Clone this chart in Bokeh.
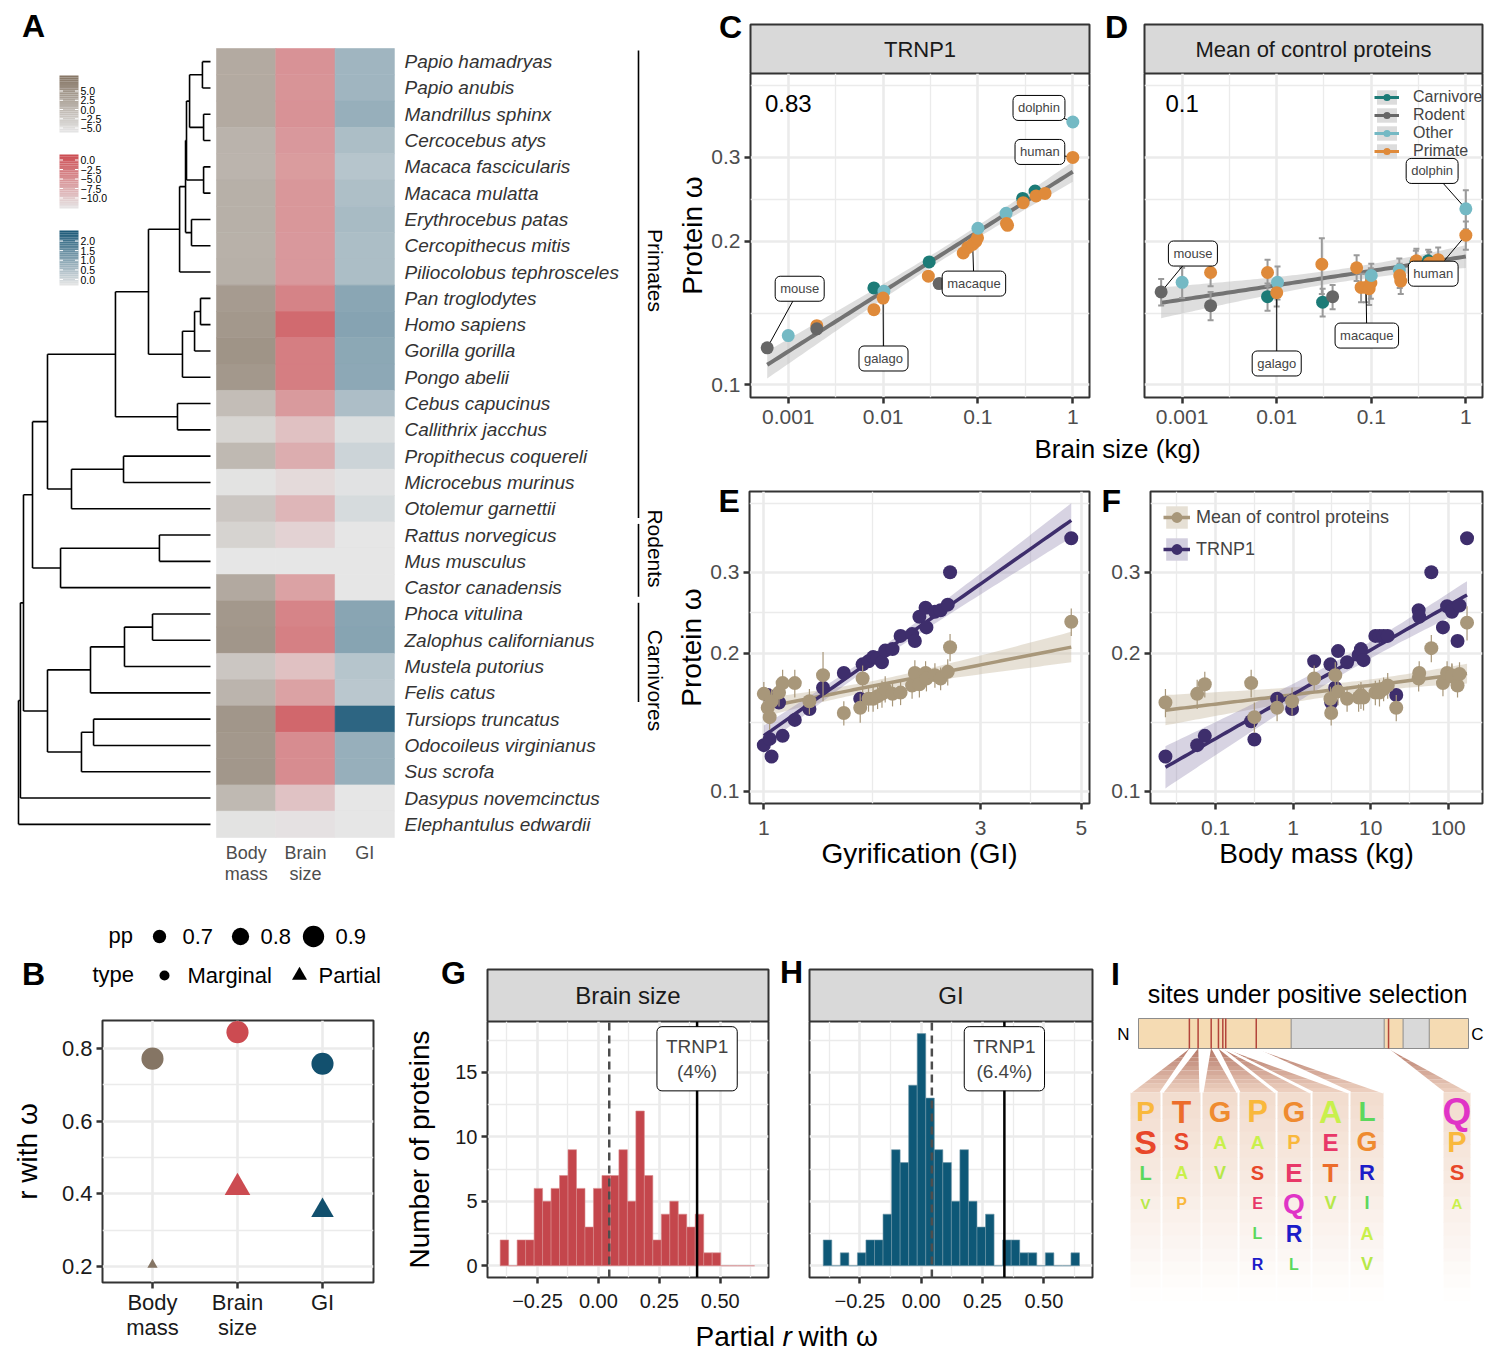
import numpy as np
from bokeh.plotting import figure
from bokeh.layouts import row, column
from bokeh.models import (Range1d, FixedTicker, CustomJSTickFormatter, Label, Legend, LegendItem)
from bokeh.core.properties import value
from bokeh.embed import file_html
from bokeh.resources import INLINE

FONT = "Liberation Sans"

# ======================= DATA =======================
# ---- Panel A
species = ["Papio hamadryas", "Papio anubis", "Mandrillus sphinx", "Cercocebus atys",
           "Macaca fascicularis", "Macaca mulatta", "Erythrocebus patas", "Cercopithecus mitis",
           "Piliocolobus tephrosceles", "Pan troglodytes", "Homo sapiens", "Gorilla gorilla",
           "Pongo abelii", "Cebus capucinus", "Callithrix jacchus", "Propithecus coquereli",
           "Microcebus murinus", "Otolemur garnettii", "Rattus norvegicus", "Mus musculus",
           "Castor canadensis", "Phoca vitulina", "Zalophus californianus", "Mustela putorius",
           "Felis catus", "Tursiops truncatus", "Odocoileus virginianus", "Sus scrofa",
           "Dasypus novemcinctus", "Elephantulus edwardii"]
heat_columns = ["Body\nmass", "Brain\nsize", "GI"]
heat_body_mass = [0.3, 0.3, 0.3, -0.5, -0.6, -0.2, -0.2, -0.3, -0.2, 1.6, 1.9, 2.3, 1.9, -1.4, -3.5,
                  -1.0, -4.7, -2.2, -3.3, -5.0, 0.4, 1.9, 2.1, -2.2, -0.6, 2.1, 1.9, 2.0, -1.0, -4.7]
heat_brain_size = [-4.6, -4.7, -4.6, -5.0, -5.2, -4.9, -4.9, -5.0, -5.0, -3.6, -2.0, -3.3, -3.3, -5.1, -7.6,
                   -6.3, -9.2, -6.9, -8.7, -10.0, -5.6, -3.7, -3.4, -7.6, -5.6, -1.8, -4.2, -4.2, -7.7, -9.7]
heat_gi = [0.69, 0.69, 0.77, 0.57, 0.47, 0.55, 0.61, 0.57, 0.57, 0.90, 0.94, 0.88, 0.87, 0.56, 0.10,
           0.25, 0.05, 0.16, 0.0, 0.0, 0.0, 0.91, 0.93, 0.47, 0.43, 1.81, 0.77, 0.77, 0.0, 0.0]
clades = ["Primates", "Rodents", "Carnivores"]
clade_first = [0, 18, 21]
clade_last = [17, 20, 24]
# dendrogram merges: (child a, child b, node depth on 0-100 scale); new nodes numbered from 30
tree_merges = [
    (0, 1, 4.2), (2, 3, 3.6), (30, 31, 10.9), (4, 5, 3.6), (32, 33, 12.5),
    (6, 7, 9.9), (34, 35, 13.0), (36, 8, 16.1), (9, 10, 5.2), (38, 11, 8.3),
    (39, 12, 14.6), (37, 40, 32.3), (13, 14, 17.2), (41, 42, 49.5), (15, 16, 45.3),
    (44, 17, 72.4), (43, 45, 84.9), (18, 19, 26.6), (47, 20, 78.1), (46, 48, 92.7),
    (21, 22, 30.2), (50, 23, 44.8), (51, 24, 62.5), (25, 26, 60.9), (53, 27, 67.2),
    (52, 54, 84.9), (49, 55, 97.4), (56, 28, 99.0), (57, 29, 100.0)]
cbar_body_labels = ["5.0", "2.5", "0.0", "\u22122.5", "\u22125.0"]
cbar_brain_labels = ["0.0", "\u22122.5", "\u22125.0", "\u22127.5", "\u221210.0"]
cbar_gi_labels = ["2.0", "1.5", "1.0", "0.5", "0.0"]

# ---- Panel B
b_traits = ["Body\nmass", "Brain\nsize", "GI"]
b_marginal_r = [0.772, 0.845, 0.758]
b_partial_r = [0.205, 0.417, 0.354]
b_marginal_pp = [0.92, 0.92, 0.92]
b_partial_pp = [0.60, 0.95, 0.88]
pp_breaks = [0.7, 0.8, 0.9]

# ---- Panels C / D (brain size in kg)
cd_brain_kg = [0.0006, 0.001, 0.002, 0.002, 0.008, 0.008, 0.0102, 0.01, 0.0306, 0.03, 0.039, 0.07,
               0.078, 0.088, 0.095, 0.099, 0.1, 0.198, 0.2, 0.205, 0.296, 0.3, 0.4, 0.41, 0.51, 1.0, 1.0]
cd_group = ["Rodent", "Other", "Primate", "Rodent", "Carnivore", "Primate", "Other", "Primate",
            "Carnivore", "Primate", "Rodent", "Primate", "Primate", "Primate", "Primate", "Primate",
            "Other", "Other", "Primate", "Primate", "Carnivore", "Primate", "Carnivore", "Primate",
            "Primate", "Other", "Primate"]
trnp1_omega = [0.1195, 0.1268, 0.133, 0.131, 0.1596, 0.1437, 0.157, 0.152, 0.181, 0.169, 0.163, 0.189,
               0.194, 0.197, 0.2, 0.2034, 0.213, 0.229, 0.218, 0.216, 0.246, 0.241, 0.255, 0.249, 0.252,
               0.356, 0.300]
ctrl_omega = [0.1566, 0.164, 0.172, 0.1465, 0.153, 0.172, 0.164, 0.156, 0.149, 0.179, 0.153, 0.176,
              0.160, 0.160, 0.159, 0.1635, 0.1695, 0.174, 0.1695, 0.165, 0.181, 0.182, 0.182, 0.180,
              0.183, 0.234, 0.206]
ctrl_se = [0.010, 0.012, 0.011, 0.010, 0.010, 0.011, 0.013, 0.010, 0.010, 0.024, 0.009, 0.011, 0.011,
           0.011, 0.012, 0.012, 0.010, 0.010, 0.010, 0.010, 0.010, 0.011, 0.010, 0.010, 0.011, 0.022, 0.014]
group_order = ["Carnivore", "Rodent", "Other", "Primate"]
tag_names = ["dolphin", "human", "mouse", "galago", "macaque"]
tag_index = [25, 26, 0, 7, 13]
c_corr = "0.83"
d_corr = "0.1"

# ---- Panel E (gyrification index)
e_gi = [1.00, 1.02, 1.03, 1.04, 1.08, 1.10, 1.17, 1.26, 1.35, 1.50, 1.63, 1.65, 1.70, 1.74, 1.78,
        1.82, 1.85, 1.92, 2.00, 2.12, 2.15, 2.20, 2.27, 2.28, 2.38, 2.45, 2.54, 2.57, 4.75]
e_trnp1 = [0.126, 0.162, 0.130, 0.119, 0.156, 0.132, 0.143, 0.151, 0.168, 0.181, 0.159, 0.189, 0.192,
           0.196, 0.195, 0.191, 0.2025, 0.204, 0.218, 0.220, 0.2125, 0.240, 0.251, 0.2275, 0.246, 0.248,
           0.255, 0.300, 0.356]
e_ctrl = [0.163, 0.152, 0.145, 0.157, 0.164, 0.172, 0.172, 0.157, 0.179, 0.148, 0.152, 0.176, 0.159,
          0.159, 0.161, 0.163, 0.167, 0.163, 0.164, 0.170, 0.181, 0.171, 0.181, 0.176, 0.179, 0.176,
          0.182, 0.206, 0.234]
e_ctrl_se = [0.010, 0.010, 0.009, 0.010, 0.011, 0.012, 0.012, 0.010, 0.022, 0.009, 0.011, 0.012, 0.010,
             0.010, 0.010, 0.011, 0.011, 0.010, 0.010, 0.011, 0.012, 0.011, 0.011, 0.011, 0.011, 0.010,
             0.012, 0.014, 0.016]

# ---- Panel F (body mass in kg)
f_mass = [0.0226, 0.058, 0.0727, 0.288, 0.317, 0.622, 0.97, 1.87, 3.03, 3.1, 3.5, 3.8, 4.97, 7.0, 7.5,
          8.1, 11.5, 13, 14.7, 16.6, 21.4, 41.6, 42.3, 60.6, 85.6, 96.8, 111.6, 112, 132, 140, 175]
f_trnp1 = [0.119, 0.126, 0.132, 0.142, 0.1296, 0.159, 0.151, 0.192, 0.189, 0.156, 0.168, 0.202, 0.191,
           0.198, 0.204, 0.193, 0.218, 0.218, 0.218, 0.218, 0.162, 0.248, 0.240, 0.300, 0.2275, 0.253,
           0.248, 0.246, 0.2125, 0.254, 0.356]
f_ctrl = [0.156, 0.163, 0.171, 0.172, 0.145, 0.152, 0.157, 0.176, 0.159, 0.148, 0.179, 0.165, 0.159,
          0.160, 0.162, 0.160, 0.164, 0.164, 0.167, 0.170, 0.152, 0.176, 0.181, 0.205, 0.172, 0.181,
          0.179, 0.178, 0.170, 0.180, 0.233]
f_ctrl_se = [0.011, 0.012, 0.011, 0.012, 0.011, 0.010, 0.011, 0.012, 0.010, 0.009, 0.012, 0.011, 0.010,
             0.011, 0.011, 0.010, 0.010, 0.011, 0.010, 0.011, 0.010, 0.011, 0.011, 0.014, 0.011, 0.011,
             0.011, 0.011, 0.010, 0.011, 0.020]

# ---- Panels G / H (histograms of partial r)
g_bin_start = -0.403
h_bin_start = -0.399
bin_width = 0.0348
g_counts = [2, 0, 2, 2, 6, 5, 6, 7, 9, 6, 3, 6, 7, 7, 9, 5, 12, 7, 2, 4, 5, 4, 3, 4, 1, 1, 0, 0, 0, 0]
h_counts = [2, 0, 1, 0, 1, 2, 2, 4, 9, 8, 14, 18, 13, 9, 8, 5, 9, 5, 3, 4, 0, 2, 2, 1, 1, 0, 1, 0, 0, 1]
g_mean = 0.0445
h_mean = 0.0435
g_trnp1 = 0.405
h_trnp1 = 0.339
g_tag = "TRNP1\n(4%)"
h_tag = "TRNP1\n(6.4%)"

# ---- Panel I (sites under positive selection)
prot_len = 227
prot_domains = [(105, 169), (182, 200)]
sel_sites = [35, 41, 50, 55, 58, 60, 81, 172]
logo_letters = ["PSLV", "TSAP", "GAV", "PASELR", "GPEQRL", "AETV", "LGRIAV", "QPSA"]
logo_weight = [[0.59, 0.82, 0.27, 0.09], [0.77, 0.41, 0.18, 0.14], [0.64, 0.23, 0.18],
               [0.73, 0.23, 0.27, 0.14, 0.14, 0.14], [0.64, 0.27, 0.50, 0.59, 0.41, 0.14],
               [0.77, 0.45, 0.50, 0.18], [0.59, 0.55, 0.36, 0.18, 0.18, 0.18], [0.95, 0.64, 0.36, 0.09]]

# ======================= STYLE / HELPERS =======================
GRAY_TXT = "#4d4d4d"
GRID = "#ebebeb"
LOW = "#e6e6e6"
HI_BODY, HI_BRAIN, HI_GI = "#857564", "#cc4b51", "#1a5877"
GROUP_COLORS = {"Carnivore": "#1c7b77", "Rodent": "#666666", "Other": "#74b9c4", "Primate": "#df8a3a"}
PURPLE, TAN = "#3e2e6c", "#a8977a"
AA_COLORS = {"P": "#f9b83c", "S": "#e8472a", "L": "#5cd85c", "V": "#b6e84a", "T": "#ec6c2b",
             "A": "#c8f04c", "G": "#ef8b30", "E": "#e83868", "Q": "#e034c6", "R": "#1c1cc8", "I": "#5cd85c"}


def lerp_hex(c0, c1, t):
    t = min(max(t, 0.0), 1.0)
    a = [int(c0[i:i + 2], 16) for i in (1, 3, 5)]
    b = [int(c1[i:i + 2], 16) for i in (1, 3, 5)]
    return "#%02x%02x%02x" % tuple(int(round(a[k] + (b[k] - a[k]) * t)) for k in range(3))


def blank_fig(w, h, x0, x1, y0, y1):
    p = figure(width=w, height=h, x_range=Range1d(x0, x1), y_range=Range1d(y0, y1),
               x_axis_location=None, y_axis_location=None, output_backend="svg",
               toolbar_location=None, min_border=0)
    p.grid.visible = False
    p.outline_line_color = None
    return p


def txt(p, x, y, s, size, color="black", align="center", baseline="middle", style="normal", angle=0.0):
    p.text(x=[x], y=[y], text=[s], text_font=value(FONT), text_font_size=value(size),
           text_color=color, text_align=align, text_baseline=baseline, text_font_style=style, angle=angle)


def data_fig(w, h, xr, yr, bl, br, bt, bb, xlog=False, ylog=False, yaxis=True):
    p = figure(width=w, height=h, x_range=Range1d(*xr), y_range=Range1d(*yr),
               x_axis_type="log" if xlog else "linear", y_axis_type="log" if ylog else "linear",
               y_axis_location="left" if yaxis else None, output_backend="svg",
               toolbar_location=None, min_border_left=bl, min_border_right=br,
               min_border_top=bt, min_border_bottom=bb)
    p.outline_line_color = "#333333"
    p.outline_line_width = 2
    return p


def style_axis(axes, ticks, code, size, color, args=None, standoff=4):
    axes.ticker = FixedTicker(ticks=ticks)
    axes.formatter = CustomJSTickFormatter(code=code, args=args or {})
    axes.axis_line_color = None
    axes.major_tick_line_color = "#333333"
    axes.major_tick_line_width = 2.5
    axes.major_tick_out = 6
    axes.major_tick_in = 0
    axes.minor_tick_line_color = None
    axes.major_label_text_font = FONT
    axes.major_label_text_font_size = size
    axes.major_label_text_color = color
    axes.major_label_standoff = standoff
    axes.axis_label_text_font = FONT
    axes.axis_label_text_font_size = "28px"
    axes.axis_label_text_font_style = "normal"
    axes.axis_label_text_color = "black"
    axes.axis_label_standoff = 0


def style_grid(g, ticks, minor):
    g.ticker = FixedTicker(ticks=ticks, minor_ticks=minor)
    g.grid_line_color = GRID
    g.grid_line_width = 2.6
    g.minor_grid_line_color = GRID
    g.minor_grid_line_width = 1.3


def fit_band(x, y, n=80, t=2.06):
    lx = np.log(np.asarray(x, float))
    ly = np.log(np.asarray(y, float))
    b, a = np.polyfit(lx, ly, 1)
    res = ly - (a + b * lx)
    m = len(lx)
    s = np.sqrt((res ** 2).sum() / (m - 2))
    sxx = ((lx - lx.mean()) ** 2).sum()
    gx = np.linspace(lx.min(), lx.max(), n)
    gy = a + b * gx
    se = s * np.sqrt(1.0 / m + (gx - lx.mean()) ** 2 / sxx)
    return np.exp(gx), np.exp(gy), np.exp(gy - t * se), np.exp(gy + t * se)


def title_letter(p, s, offset, standoff=-54):
    p.title.text = s
    p.title.text_font = FONT
    p.title.text_font_size = "32px"
    p.title.text_font_style = "bold"
    p.title.text_color = "black"
    p.title.align = "left"
    p.title.offset = offset
    p.title.standoff = standoff


def tag(p, x, y, s, size="13px", pad=5):
    p.add_layout(Label(x=x, y=y, text=s, text_font=FONT, text_font_size=size, text_align="center",
                       text_baseline="middle", background_fill_color="white", border_line_color="black",
                       border_line_width=1, padding=pad, border_radius=5))


FMT_STR = "return tick.toString();"
FMT_1 = "return tick.toFixed(1);"
FMT_2M = "return (tick < 0 ? '\u2212' : '') + Math.abs(tick).toFixed(2);"

XR_CD = (0.0004, 1.5)
YR_OM = (0.094, 0.45)
XT_CD, XM_CD = [0.001, 0.01, 0.1, 1], [0.000316, 0.00316, 0.0316, 0.316]
YT_OM, YM_OM = [0.1, 0.2, 0.3], [0.1414, 0.2449, 0.4243]
FAR = 1e-9  # off-range anchor for legend-only glyphs

# ======================= PANEL A =======================
pA = blank_fig(672, 900, 0, 672, 900, 0)
txt(pA, 33, 25, "A", "32px", style="bold")
ROW_Y0, ROW_H = 48.0, 26.3
TIP_X, ROOT_X = 210.0, 18.0
n_sp = len(species)
node_x = {i: TIP_X for i in range(n_sp)}
node_y = {i: ROW_Y0 + (i + 0.5) * ROW_H for i in range(n_sp)}
sx0, sy0, sx1, sy1 = [], [], [], []
for k, (a, b, d) in enumerate(tree_merges):
    nid = n_sp + k
    xx = TIP_X - d / 100.0 * (TIP_X - ROOT_X)
    node_x[nid] = xx
    node_y[nid] = 0.5 * (node_y[a] + node_y[b])
    sx0 += [xx, xx, xx]
    sy0 += [node_y[a], node_y[a], node_y[b]]
    sx1 += [xx, node_x[a], node_x[b]]
    sy1 += [node_y[b], node_y[a], node_y[b]]
pA.segment(x0=sx0, y0=sy0, x1=sx1, y1=sy1, line_color="black", line_width=1.6)

HM_X0, HM_W = 216.0, 59.3
heat_specs = [(heat_body_mass, -5.0, 5.0, HI_BODY), (heat_brain_size, -10.0, 0.0, HI_BRAIN),
              (heat_gi, 0.0, 2.0, HI_GI)]
tops = [ROW_Y0 + i * ROW_H for i in range(n_sp)]
bots = [ROW_Y0 + (i + 1) * ROW_H for i in range(n_sp)]
for j, (vals, lo, hi, chi) in enumerate(heat_specs):
    cols = [lerp_hex(LOW, chi, (v - lo) / (hi - lo)) for v in vals]
    pA.quad(left=[HM_X0 + j * HM_W] * n_sp, right=[HM_X0 + (j + 1) * HM_W] * n_sp, top=tops, bottom=bots,
            fill_color=cols, line_color=cols, line_width=0.6)
    for li, word in enumerate(heat_columns[j].split("\n")):
        txt(pA, HM_X0 + (j + 0.5) * HM_W, 852 + 21 * li, word, "18px", color=GRAY_TXT)

pA.text(x=[404] * n_sp, y=[node_y[i] for i in range(n_sp)], text=species, text_font=value(FONT),
        text_font_size=value("19px"), text_font_style="italic", text_color="#333333",
        text_align="left", text_baseline="middle")

clade_label_y = [270, 548, 680]
for name, i0, i1, ly in zip(clades, clade_first, clade_last, clade_label_y):
    y0 = ROW_Y0 + i0 * ROW_H + 2
    y1 = ROW_Y0 + (i1 + 1) * ROW_H - 4
    pA.segment(x0=[638], y0=[y0], x1=[638], y1=[y1], line_color="black", line_width=1.6)
    txt(pA, 655, ly, name, "21px", angle=-np.pi / 2)

cbar_specs = [(75, 132, 90.5, 127.5, cbar_body_labels, HI_BODY),
              (154, 208, 159.5, 197.5, cbar_brain_labels, HI_BRAIN),
              (230, 285, 240.5, 279.0, cbar_gi_labels, HI_GI)]
NSL = 30
for (yt, yb, t0, t1, labels, chi) in cbar_specs:
    hs = (yb - yt) / NSL
    pA.quad(left=[59] * NSL, right=[78] * NSL, top=[yt + s * hs for s in range(NSL)],
            bottom=[yt + (s + 1) * hs for s in range(NSL)],
            fill_color=[lerp_hex(chi, LOW, (s + 0.5) / NSL) for s in range(NSL)], line_color=None)
    ty = [t0 + (t1 - t0) * q / 4 for q in range(5)]
    pA.segment(x0=[59] * 5 + [74.5] * 5, y0=ty + ty, x1=[62.5] * 5 + [78] * 5, y1=ty + ty,
               line_color="white", line_width=1)
    pA.text(x=[80] * 5, y=ty, text=labels, text_font=value(FONT), text_font_size=value("10.5px"),
            text_color="black", text_align="left", text_baseline="middle")

# ======================= PANEL C =======================
stripC = blank_fig(423, 73, 672, 1095, 73, 0)
stripC.quad(left=[750], right=[1089], top=[24], bottom=[73], fill_color="#d9d9d9", line_color="#333333",
            line_width=2)
txt(stripC, 919.5, 49, "TRNP1", "22px", color="#1a1a1a")
txt(stripC, 730, 26, "C", "32px", style="bold")

cd_colors = [GROUP_COLORS[g] for g in cd_group]
pC = data_fig(423, 360, XR_CD, YR_OM, 78, 6, 0, 36, xlog=True, ylog=True)
style_axis(pC.xaxis, XT_CD, FMT_STR, "21px", GRAY_TXT, standoff=6)
style_axis(pC.yaxis, YT_OM, FMT_1, "21px", GRAY_TXT)
pC.yaxis.axis_label = "Protein \u03c9"
style_grid(pC.xgrid, XT_CD, XM_CD)
style_grid(pC.ygrid, YT_OM, YM_OM)
fx, fy, flo, fhi = fit_band(cd_brain_kg, trnp1_omega)
pC.varea(x=fx, y1=flo, y2=fhi, fill_color="#bdbdbd", fill_alpha=0.5)
pC.line(fx, fy, line_color="#737373", line_width=4)
c_tag_pos = [(0.44, 0.381), (0.45, 0.308), (0.00132, 0.159), (0.0101, 0.1135), (0.0907, 0.163)]
pC.segment(x0=[q[0] for q in c_tag_pos], y0=[q[1] for q in c_tag_pos],
           x1=[cd_brain_kg[i] for i in tag_index], y1=[trnp1_omega[i] for i in tag_index],
           line_color="black", line_width=1)
pC.scatter(cd_brain_kg, trnp1_omega, size=13, fill_color=cd_colors, line_color=None)
for nm, (lx, ly) in zip(tag_names, c_tag_pos):
    tag(pC, lx, ly, nm)
pC.text(x=[0.001], y=[0.389], text=[c_corr], text_font=value(FONT), text_font_size=value("24px"),
        text_align="center", text_baseline="middle", text_color="black")

# ======================= PANEL D =======================
stripD = blank_fig(389, 73, 1095, 1484, 73, 0)
stripD.quad(left=[1144], right=[1482], top=[24], bottom=[73], fill_color="#d9d9d9", line_color="#333333",
            line_width=2)
txt(stripD, 1313, 49, "Mean of control proteins", "22px", color="#1a1a1a")
txt(stripD, 1116, 26, "D", "32px", style="bold")

pD = data_fig(389, 360, XR_CD, YR_OM, 49, 2, 0, 36, xlog=True, ylog=True, yaxis=False)
style_axis(pD.xaxis, XT_CD, FMT_STR, "21px", GRAY_TXT, standoff=6)
style_grid(pD.xgrid, XT_CD, XM_CD)
style_grid(pD.ygrid, YT_OM, YM_OM)
fx, fy, flo, fhi = fit_band(cd_brain_kg, ctrl_omega)
pD.varea(x=fx, y1=flo, y2=fhi, fill_color="#bdbdbd", fill_alpha=0.5)
pD.line(fx, fy, line_color="#737373", line_width=4)
lo = [m - s for m, s in zip(ctrl_omega, ctrl_se)]
hi = [m + s for m, s in zip(ctrl_omega, ctrl_se)]
pD.segment(x0=cd_brain_kg, y0=lo, x1=cd_brain_kg, y1=hi, line_color="#9a9a9a", line_width=2)
pD.scatter(cd_brain_kg + cd_brain_kg, lo + hi, marker="dash", size=6, line_color="#9a9a9a", line_width=2)
d_tag_pos = [(0.44, 0.281), (0.452, 0.171), (0.0013, 0.1885), (0.01, 0.1108), (0.0897, 0.1268)]
pD.segment(x0=[q[0] for q in d_tag_pos], y0=[q[1] for q in d_tag_pos],
           x1=[cd_brain_kg[i] for i in tag_index], y1=[ctrl_omega[i] for i in tag_index],
           line_color="black", line_width=1)
pD.scatter(cd_brain_kg, ctrl_omega, size=13, fill_color=cd_colors, line_color=None)
for nm, (lx, ly) in zip(tag_names, d_tag_pos):
    tag(pD, lx, ly, nm)
pD.text(x=[0.001], y=[0.389], text=[d_corr], text_font=value(FONT), text_font_size=value("24px"),
        text_align="center", text_baseline="middle", text_color="black")
legD_items = []
for g in group_order:
    bx = pD.quad(left=[FAR], right=[2 * FAR], top=[2 * FAR], bottom=[FAR], fill_color="#dcdcdc",
                 line_color=None)
    ln = pD.line(x=[FAR, 2 * FAR], y=[FAR, FAR], line_color=GROUP_COLORS[g], line_width=3)
    sc = pD.scatter(x=[FAR], y=[FAR], fill_color=GROUP_COLORS[g], line_color=None, size=10)
    legD_items.append(LegendItem(label=g, renderers=[bx, ln, sc]))
legD = Legend(items=legD_items, location=(230, 237), glyph_width=25, glyph_height=18, label_height=18,
              label_standoff=14, spacing=0, padding=0, margin=0, label_text_font=FONT,
              label_text_font_size="16px", background_fill_alpha=0, border_line_color=None)
pD.add_layout(legD)

cd_title = blank_fig(812, 31, 672, 1484, 464, 433)
txt(cd_title, 1117, 448.5, "Brain size (kg)", "26px")

# ======================= PANEL E =======================
XR_E = (0.93, 5.21)
pE = data_fig(423, 436, XR_E, YR_OM, 77, 6, 27, 97, xlog=True, ylog=True)
style_axis(pE.xaxis, [1, 3, 5], FMT_STR, "21px", GRAY_TXT, standoff=11)
style_axis(pE.yaxis, YT_OM, FMT_1, "21px", GRAY_TXT)
pE.xaxis.axis_label = "Gyrification (GI)"
pE.yaxis.axis_label = "Protein \u03c9"
style_grid(pE.xgrid, [1, 3, 5], [1.732, 3.873])
style_grid(pE.ygrid, YT_OM, YM_OM)
tx, ty_, tlo, thi = fit_band(e_gi, e_ctrl)
px_, py_, plo, phi = fit_band(e_gi, e_trnp1)
pE.varea(x=tx, y1=tlo, y2=thi, fill_color="#c9bda5", fill_alpha=0.45)
pE.varea(x=px_, y1=plo, y2=phi, fill_color="#8d82ad", fill_alpha=0.35)
pE.line(tx, ty_, line_color=TAN, line_width=3.5)
pE.line(px_, py_, line_color=PURPLE, line_width=3.5)
pE.scatter(e_gi, e_trnp1, size=14, fill_color=PURPLE, line_color=None)
pE.segment(x0=e_gi, y0=[m - s for m, s in zip(e_ctrl, e_ctrl_se)], x1=e_gi,
           y1=[m + s for m, s in zip(e_ctrl, e_ctrl_se)], line_color=TAN, line_width=1.2)
pE.scatter(e_gi, e_ctrl, size=14, fill_color=TAN, line_color=None)
title_letter(pE, "E", -31)

# ======================= PANEL F =======================
XR_F = (0.0145, 277)
pF = data_fig(389, 436, XR_F, YR_OM, 55, 2, 27, 97, xlog=True, ylog=True)
style_axis(pF.xaxis, [0.1, 1, 10, 100], FMT_STR, "21px", GRAY_TXT, standoff=11)
style_axis(pF.yaxis, YT_OM, FMT_1, "21px", GRAY_TXT)
pF.xaxis.axis_label = "Body mass (kg)"
style_grid(pF.xgrid, [0.1, 1, 10, 100], [0.0316, 0.316, 3.16, 31.6])
style_grid(pF.ygrid, YT_OM, YM_OM)
tx, ty_, tlo, thi = fit_band(f_mass, f_ctrl)
px_, py_, plo, phi = fit_band(f_mass, f_trnp1)
pF.varea(x=tx, y1=tlo, y2=thi, fill_color="#c9bda5", fill_alpha=0.45)
pF.varea(x=px_, y1=plo, y2=phi, fill_color="#8d82ad", fill_alpha=0.35)
pF.line(tx, ty_, line_color=TAN, line_width=3.5)
pF.line(px_, py_, line_color=PURPLE, line_width=3.5)
pF.scatter(f_mass, f_trnp1, size=14, fill_color=PURPLE, line_color=None)
pF.segment(x0=f_mass, y0=[m - s for m, s in zip(f_ctrl, f_ctrl_se)], x1=f_mass,
           y1=[m + s for m, s in zip(f_ctrl, f_ctrl_se)], line_color=TAN, line_width=1.2)
pF.scatter(f_mass, f_ctrl, size=14, fill_color=TAN, line_color=None)
title_letter(pF, "F", -49)
legF_items = []
for lab, col, band in [("Mean of control proteins", TAN, "#e6e0d5"), ("TRNP1", PURPLE, "#d3cfdf")]:
    bx = pF.quad(left=[FAR], right=[2 * FAR], top=[2 * FAR], bottom=[FAR], fill_color=band, line_color=None)
    ln = pF.line(x=[FAR, 2 * FAR], y=[FAR, FAR], line_color=col, line_width=3.5)
    sc = pF.scatter(x=[FAR], y=[FAR], fill_color=col, line_color=None, size=12)
    legF_items.append(LegendItem(label=lab, renderers=[bx, ln, sc]))
legF = Legend(items=legF_items, location=(13, 240), glyph_width=27, glyph_height=28, label_height=28,
              label_standoff=6, spacing=4, padding=0, margin=0, label_text_font=FONT,
              label_text_font_size="18px", background_fill_alpha=0, border_line_color=None)
pF.add_layout(legF)


# ======================= PANEL B =======================
def pp_size(v):
    return 13.3 + (v - 0.7) * 40.0


pBl = blank_fig(390, 118, 0, 390, 1018, 900)
txt(pBl, 33, 973, "B", "32px", style="bold")
txt(pBl, 108, 935, "pp", "22px", align="left")
pBl.scatter(x=[159, 240, 313], y=[936, 936, 936], size=[pp_size(v) for v in pp_breaks],
            fill_color="black", line_color=None)
for xx, v in zip([182, 260, 335], pp_breaks):
    txt(pBl, xx, 936, "%.1f" % v, "22px", align="left")
txt(pBl, 92, 974, "type", "22px", align="left")
pBl.scatter(x=[164], y=[975], size=10, marker="circle", fill_color="black", line_color=None)
txt(pBl, 187, 975, "Marginal", "22px", align="left")
pBl.scatter(x=[299], y=[975], size=15, marker="triangle", fill_color="black", line_color=None)
txt(pBl, 318, 975, "Partial", "22px", align="left")

b_colors = [HI_BODY, HI_BRAIN, "#12506e"]
pB = data_fig(390, 335, (0.412, 3.6), (0.156, 0.877), 102, 17, 2, 71)
style_axis(pB.xaxis, [1, 2, 3], "return labels[Math.round(tick) - 1];", "22px", "#1a1a1a",
           args=dict(labels=b_traits), standoff=1)
pB.xaxis.major_label_text_line_height = 1.0
style_axis(pB.yaxis, [0.2, 0.4, 0.6, 0.8], FMT_1, "22px", "#1a1a1a")
pB.yaxis.axis_label = "r with \u03c9"
pB.yaxis.axis_label_standoff = 16
style_grid(pB.xgrid, [1, 2, 3], [])
style_grid(pB.ygrid, [0.2, 0.4, 0.6, 0.8], [0.3, 0.5, 0.7])
pB.scatter([1, 2, 3], b_marginal_r, size=[pp_size(v) for v in b_marginal_pp], fill_color=b_colors,
           line_color=None, marker="circle")
pB.scatter([1, 2, 3], b_partial_r, size=[1.1 * pp_size(v) for v in b_partial_pp], fill_color=b_colors,
           line_color=None, marker="triangle")

# ======================= PANELS G / H =======================
XR_G = (-0.455, 0.698)
YR_G = (-0.91, 18.94)


def hist_panel(p, start, counts, fill, edge):
    n = len(counts)
    p.quad(left=[start + i * bin_width for i in range(n)], right=[start + (i + 1) * bin_width for i in range(n)],
           bottom=[0] * n, top=counts, fill_color=fill, line_color=edge, line_width=0.6)


stripG = blank_fig(388, 121, 390, 778, 1021, 900)
stripG.quad(left=[487], right=[768], top=[969], bottom=[1021], fill_color="#d9d9d9", line_color="#333333",
            line_width=2)
txt(stripG, 627.5, 995, "Brain size", "24px", color="#1a1a1a")
txt(stripG, 453, 972, "G", "32px", style="bold")
pG = data_fig(388, 299, XR_G, YR_G, 97, 10, 0, 43)
style_axis(pG.xaxis, [-0.25, 0, 0.25, 0.5], FMT_2M, "20px", "#1a1a1a", standoff=10)
style_axis(pG.yaxis, [0, 5, 10, 15], FMT_STR, "20px", "#1a1a1a")
pG.yaxis.axis_label = "Number of proteins"
pG.yaxis.axis_label_standoff = 17
style_grid(pG.xgrid, [-0.25, 0, 0.25, 0.5], [-0.375, -0.125, 0.125, 0.375, 0.625])
style_grid(pG.ygrid, [0, 5, 10, 15], [2.5, 7.5, 12.5, 17.5])
hist_panel(pG, g_bin_start, g_counts, "#c4464c", "#d98a8c")
pG.segment(x0=[g_mean], y0=[YR_G[0]], x1=[g_mean], y1=[YR_G[1]], line_color="#4d4d4d", line_width=2.5,
           line_dash="8 5")
pG.segment(x0=[g_trnp1], y0=[YR_G[0]], x1=[g_trnp1], y1=[YR_G[1]], line_color="black", line_width=2.5)
tag(pG, g_trnp1, 16.05, g_tag, size="19px", pad=9)

stripH = blank_fig(320, 121, 778, 1098, 1021, 900)
stripH.quad(left=[809], right=[1092], top=[969], bottom=[1021], fill_color="#d9d9d9", line_color="#333333",
            line_width=2)
txt(stripH, 950.5, 995, "GI", "24px", color="#1a1a1a")
txt(stripH, 791, 971, "H", "32px", style="bold")
pH = data_fig(320, 299, XR_G, YR_G, 31, 6, 0, 43, yaxis=False)
style_axis(pH.xaxis, [-0.25, 0, 0.25, 0.5], FMT_2M, "20px", "#1a1a1a", standoff=10)
style_grid(pH.xgrid, [-0.25, 0, 0.25, 0.5], [-0.375, -0.125, 0.125, 0.375, 0.625])
style_grid(pH.ygrid, [0, 5, 10, 15], [2.5, 7.5, 12.5, 17.5])
hist_panel(pH, h_bin_start, h_counts, "#0e5877", "#6f97a8")
pH.segment(x0=[h_mean], y0=[YR_G[0]], x1=[h_mean], y1=[YR_G[1]], line_color="#4d4d4d", line_width=2.5,
           line_dash="8 5")
pH.segment(x0=[h_trnp1], y0=[YR_G[0]], x1=[h_trnp1], y1=[YR_G[1]], line_color="black", line_width=2.5)
tag(pH, h_trnp1, 16.05, h_tag, size="19px", pad=9)

gh_title = blank_fig(708, 33, 390, 1098, 1353, 1320)
txt(gh_title, 695, 1336, "Partial", "28px", align="left")
txt(gh_title, 782, 1336, "r", "28px", align="left", style="italic")
txt(gh_title, 798, 1336, "with \u03c9", "28px", align="left")

# ======================= PANEL I =======================
pI = blank_fig(386, 453, 1098, 1484, 1353, 900)
txt(pI, 1115, 973, "I", "32px", style="bold")
txt(pI, 1307, 993, "sites under positive selection", "25px")
BX0, BX1, BY0, BY1 = 1138.0, 1468.0, 1018.0, 1048.0
LOGO_COLS = [(1130, 1160), (1162, 1200), (1202, 1237), (1239, 1275), (1277, 1310), (1312, 1348),
             (1350, 1383), (1443, 1470)]
FAN_Y1, COL_Y1 = 1092.0, 1300.0


def aa_x(a):
    return BX0 + a / prot_len * (BX1 - BX0)


NF, NC = 10, 16
fxs, fys, fcs, oxs, oys = [], [], [], [], []
for site, (cl, cr) in zip(sel_sites, LOGO_COLS):
    sx = aa_x(site)
    for s in range(NF):
        t0, t1 = s / NF, (s + 1) / NF
        y0, y1 = BY1 + t0 * (FAN_Y1 - BY1), BY1 + t1 * (FAN_Y1 - BY1)
        l0, l1 = (sx - 1.2) + (cl - sx + 1.2) * t0, (sx - 1.2) + (cl - sx + 1.2) * t1
        r0, r1 = (sx + 1.2) + (cr - sx - 1.2) * t0, (sx + 1.2) + (cr - sx - 1.2) * t1
        fxs.append([l0, r0, r1, l1])
        fys.append([y0, y0, y1, y1])
        fcs.append(lerp_hex("#b57968", "#efd3c3", (t0 + t1) / 2))
    for s in range(NC):
        t0, t1 = s / NC, (s + 1) / NC
        y0, y1 = FAN_Y1 + t0 * (COL_Y1 - FAN_Y1), FAN_Y1 + t1 * (COL_Y1 - FAN_Y1)
        fxs.append([cl, cr, cr, cl])
        fys.append([y0, y0, y1 + 0.5, y1 + 0.5])
        fcs.append(lerp_hex("#f2dccd", "#ffffff", (t0 + t1) / 2))
    oxs += [[sx - 1.2, cl], [sx + 1.2, cr]]
    oys += [[BY1, FAN_Y1], [BY1, FAN_Y1]]
pI.patches(xs=fxs, ys=fys, fill_color=fcs, line_color=None)
pI.multi_line(xs=oxs, ys=oys, line_color="white", line_width=2)
pI.quad(left=[BX0], right=[BX1], top=[BY0], bottom=[BY1], fill_color="#f5dbb3", line_color="#8c8c8c",
        line_width=1)
pI.quad(left=[aa_x(a) for a, b in prot_domains], right=[aa_x(b) for a, b in prot_domains],
        top=[BY0] * len(prot_domains), bottom=[BY1] * len(prot_domains), fill_color="#d9d9d9",
        line_color="#8c8c8c", line_width=1)
pI.segment(x0=[aa_x(s) for s in sel_sites], y0=[BY0] * len(sel_sites), x1=[aa_x(s) for s in sel_sites],
           y1=[BY1] * len(sel_sites), line_color="#b3453b", line_width=1.5)
txt(pI, 1123, 1034, "N", "17px")
txt(pI, 1477, 1034, "C", "17px")
for (cl, cr), letters, ws in zip(LOGO_COLS, logo_letters, logo_weight):
    for k, (ch, w) in enumerate(zip(letters, ws)):
        pI.text(x=[(cl + cr) / 2], y=[1111 + 30.5 * k], text=[ch], text_font=value(FONT),
                text_font_size=value("%dpx" % round(13 + 25 * w)), text_font_style="bold",
                text_color=AA_COLORS[ch], text_align="center", text_baseline="middle")

# ======================= LAYOUT =======================
colC = column(row(stripC), pC)
colD = column(row(stripD), pD)
right_top = column(row(colC, colD), cd_title, row(pE, pF))
top = row(pA, right_top)
colB = column(row(pBl), pB)
colG = column(row(stripG), pG)
colH = column(row(stripH), pH)
gh = column(row(colG, colH), gh_title)
bottom = row(colB, gh, pI)
layout = column(top, bottom)

open("out.html", "w").write(file_html(layout, INLINE))
